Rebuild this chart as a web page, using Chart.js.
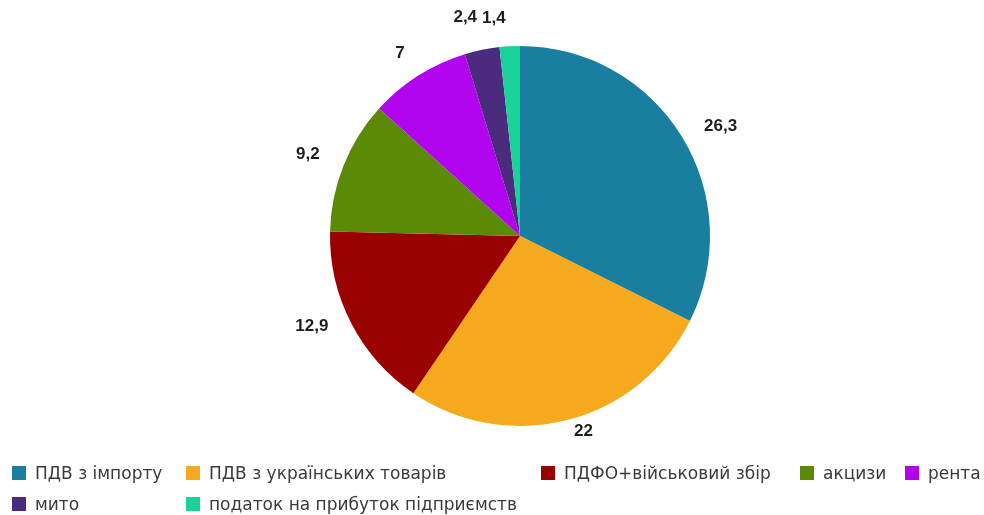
<!DOCTYPE html>
<html>
<head>
<meta charset="utf-8">
<script src="https://cdn.jsdelivr.net/npm/chart.js@4.4.1/dist/chart.umd.min.js"></script>
<style>
    html, body {margin: 0; padding: 0; background: #fff;}
    #wrap {position: relative; width: 984px; height: 515px;}
    #pie {position: absolute; left: 0; top: 0;}
    .lg {position: absolute; display: flex; align-items: center; font: 17px "DejaVu Sans", sans-serif; color: #3a3a3a; white-space: nowrap;}
    .lg span.box {display: inline-block; width: 14px; height: 14px; margin-right: 9px;}
</style>
</head>
<body>
<div id="wrap">
    <canvas id="pie" width="984" height="515"></canvas>
</div>
<script>
const labels = ['ПДВ з імпорту', 'ПДВ з українських товарів', 'ПДФО+військовий збір', 'акцизи', 'рента', 'мито', 'податок на прибуток підприємств'];
const values = [26.3, 22, 12.9, 9.2, 7, 2.4, 1.4];
const valueText = ['26,3', '22', '12,9', '9,2', '7', '2,4', '1,4'];
const colors = ['#1a7ea0', '#f6a91d', '#9a0202', '#5a8a06', '#b203ee', '#4a2b7d', '#19d39b'];

// legend places, like the original sheet legend
const legendPos = [[12, 463], [186, 463], [541, 463], [800, 463], [905, 463], [12, 494], [186, 494]];
// small nudges for the value labels (the sheet moves them apart a bit)
const labelShift = [[10, 8], [7, -21], [-9, -12], [-4, 1], [0, 7], [-10, 1], [-14, 6]];

const valueLabels = {
    id: 'valueLabels',
    afterDatasetsDraw(chart) {
        const c = chart.ctx;
        c.save();
        c.font = 'bold 17px "Liberation Sans", Arial, sans-serif';
        c.fillStyle = '#1e1e1e';
        c.textAlign = 'center';
        c.textBaseline = 'middle';
        chart.getDatasetMeta(0).data.forEach(function (arc, i) {
            const mid = (arc.startAngle + arc.endAngle) / 2;
            const r = arc.outerRadius + 34;
            c.fillText(valueText[i], arc.x + Math.cos(mid) * r + labelShift[i][0], arc.y + Math.sin(mid) * r + labelShift[i][1]);
        });
        c.restore();
    }
};

new Chart($('pie'), {
    type: 'pie',
    data: {
        labels: labels,
        datasets: [{data: values, backgroundColor: colors, borderWidth: 0}]
    },
    options: {
        responsive: false,
        animation: false,
        layout: {padding: {top: 46, bottom: 89, left: 56, right: 0}},
        plugins: {legend: {display: false}, tooltip: {enabled: false}}
    },
    plugins: [valueLabels]
});

function $(id) { return document.getElementById(id); }

labels.forEach(function (l, i) {
    const d = document.createElement('div');
    d.className = 'lg';
    d.style.left = legendPos[i][0] + 'px';
    d.style.top = legendPos[i][1] + 'px';
    d.innerHTML = '<span class="box" style="background:' + colors[i] + '"></span>' + l;
    $('wrap').appendChild(d);
});
</script>
</body>
</html>
